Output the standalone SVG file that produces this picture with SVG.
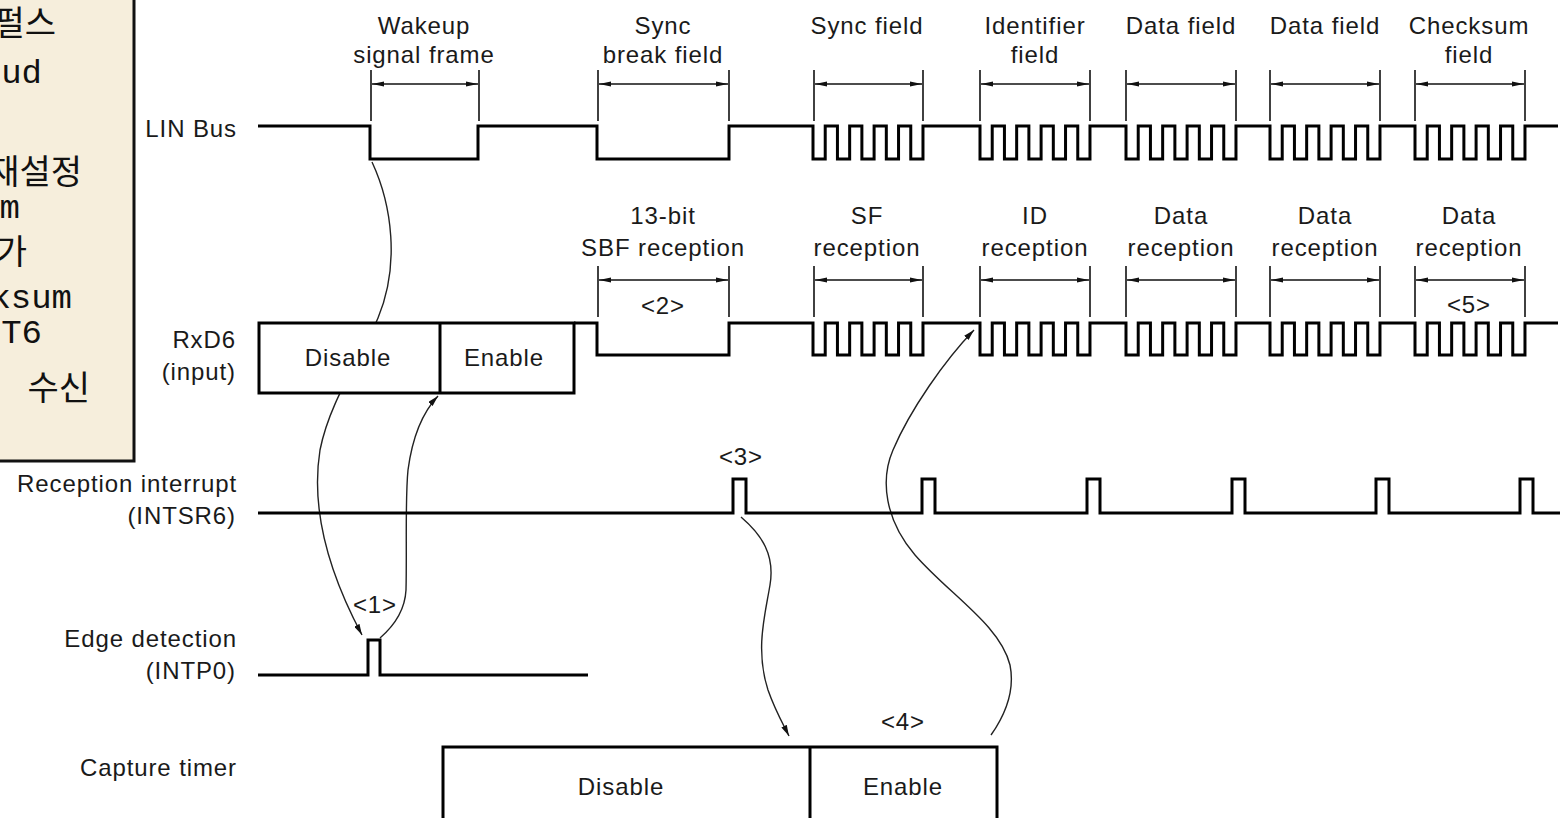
<svg xmlns="http://www.w3.org/2000/svg" width="1566" height="818" viewBox="0 0 1566 818">
<defs>
<style>
.t{font-family:"Liberation Sans",Arial,sans-serif;font-size:24px;letter-spacing:0.9px;fill:#1a1a1a}
.c{text-anchor:middle}
.r{text-anchor:end}
.kr{font-family:"Noto Sans CJK KR",sans-serif;font-size:34px;text-anchor:end;fill:#111}
.mono{font-family:"Liberation Mono","Courier New",monospace;font-size:34px;text-anchor:end;fill:#111}
.sig{fill:none;stroke:#000;stroke-width:3;stroke-linejoin:miter}
.box{fill:#fff;stroke:#000;stroke-width:3}
.tick{stroke:#111;stroke-width:1.6}
.dim{stroke:#111;stroke-width:1.6;marker-start:url(#dh);marker-end:url(#dh)}
.cv{fill:none;stroke:#222;stroke-width:1.4;marker-end:url(#ah)}
</style>
<marker id="dh" viewBox="0 0 12 6" refX="12" refY="3" markerWidth="12" markerHeight="6" markerUnits="userSpaceOnUse" orient="auto-start-reverse"><path d="M0,0.5 L12,3 L0,5.5 z" fill="#111"/></marker>
<marker id="ah" viewBox="0 0 11 6" refX="11" refY="3" markerWidth="11" markerHeight="6" markerUnits="userSpaceOnUse" orient="auto"><path d="M0,0 L11,3 L0,6 z" fill="#111"/></marker>
</defs>
<rect width="1566" height="818" fill="#fff"/>

<g id="note-box">
<rect x="-10" y="-10" width="144" height="471" fill="#F6EEDC" stroke="#111" stroke-width="3"/>
<text class="kr" x="56" y="35">펄스</text>
<text class="mono" x="42" y="83">ud</text>
<text class="kr" x="82" y="184">재설정</text>
<text class="mono" x="20" y="218">m</text>
<text class="kr" x="27" y="264">가</text>
<text class="mono" x="72" y="308">ksum</text>
<text class="mono" x="42" y="343">T6</text>
<text class="kr" x="90" y="400">수신</text>
</g>

<g id="connectors">
<path class="cv" d="M372,162 C392,205 400,265 378,318 C360,360 330,400 320,450 C312,500 322,560 362,635"/>
<path class="cv" d="M380,638 C395,625 405,610 406,590 C407,550 405,500 408,470 C412,440 420,415 438,396"/>
<path class="cv" d="M741,517 C762,535 775,555 770,585 C765,615 755,650 768,690 C775,710 782,722 789,736"/>
<path class="cv" d="M991,735 C1005,715 1015,690 1010,665 C1000,625 950,595 915,555 C885,520 880,480 893,450 C910,410 945,360 974,330"/>
</g>

<g id="lin-bus">
<text class="t r" x="237" y="137">LIN Bus</text>
<path class="sig" d="M258,126 H370 V159 H478 V126 H597 V159 H729 V126 H813 v33 h12.22 v-33 h12.22 v33 h12.22 v-33 h12.22 v33 h12.22 v-33 h12.22 v33 h12.22 v-33 h12.22 v33 h12.22 v-33 H980 v33 h12.22 v-33 h12.22 v33 h12.22 v-33 h12.22 v33 h12.22 v-33 h12.22 v33 h12.22 v-33 h12.22 v33 h12.22 v-33 H1126 v33 h12.22 v-33 h12.22 v33 h12.22 v-33 h12.22 v33 h12.22 v-33 h12.22 v33 h12.22 v-33 h12.22 v33 h12.22 v-33 H1270 v33 h12.22 v-33 h12.22 v33 h12.22 v-33 h12.22 v33 h12.22 v-33 h12.22 v33 h12.22 v-33 h12.22 v33 h12.22 v-33 H1415 v33 h12.22 v-33 h12.22 v33 h12.22 v-33 h12.22 v33 h12.22 v-33 h12.22 v33 h12.22 v-33 h12.22 v33 h12.22 v-33 H1558"/>
</g>

<g id="lin-fields">
<g class="tick">
<line x1="371" y1="70" x2="371" y2="121"/><line x1="479" y1="70" x2="479" y2="121"/>
<line x1="598" y1="70" x2="598" y2="121"/><line x1="729" y1="70" x2="729" y2="121"/>
<line x1="814" y1="70" x2="814" y2="121"/><line x1="923" y1="70" x2="923" y2="121"/>
<line x1="980" y1="70" x2="980" y2="121"/><line x1="1090" y1="70" x2="1090" y2="121"/>
<line x1="1126" y1="70" x2="1126" y2="121"/><line x1="1236" y1="70" x2="1236" y2="121"/>
<line x1="1270" y1="70" x2="1270" y2="121"/><line x1="1380" y1="70" x2="1380" y2="121"/>
<line x1="1415" y1="70" x2="1415" y2="121"/><line x1="1525" y1="70" x2="1525" y2="121"/>
</g>
<line class="dim" x1="372" y1="84" x2="478" y2="84"/>
<line class="dim" x1="599" y1="84" x2="728" y2="84"/>
<line class="dim" x1="815" y1="84" x2="922" y2="84"/>
<line class="dim" x1="981" y1="84" x2="1089" y2="84"/>
<line class="dim" x1="1127" y1="84" x2="1235" y2="84"/>
<line class="dim" x1="1271" y1="84" x2="1379" y2="84"/>
<line class="dim" x1="1416" y1="84" x2="1524" y2="84"/>
<text class="t c" x="424" y="34">Wakeup</text>
<text class="t c" x="424" y="63">signal frame</text>
<text class="t c" x="663" y="34">Sync</text>
<text class="t c" x="663" y="63">break field</text>
<text class="t c" x="867" y="34">Sync field</text>
<text class="t c" x="1035" y="34">Identifier</text>
<text class="t c" x="1035" y="63">field</text>
<text class="t c" x="1181" y="34">Data field</text>
<text class="t c" x="1325" y="34">Data field</text>
<text class="t c" x="1469" y="34">Checksum</text>
<text class="t c" x="1469" y="63">field</text>
</g>

<g id="rxd6">
<text class="t r" x="236" y="348">RxD6</text>
<text class="t r" x="236" y="380">(input)</text>
<path class="sig" d="M574,323 H597 V355 H729 V323 H813 v32 h12.22 v-32 h12.22 v32 h12.22 v-32 h12.22 v32 h12.22 v-32 h12.22 v32 h12.22 v-32 h12.22 v32 h12.22 v-32 H980 v32 h12.22 v-32 h12.22 v32 h12.22 v-32 h12.22 v32 h12.22 v-32 h12.22 v32 h12.22 v-32 h12.22 v32 h12.22 v-32 H1126 v32 h12.22 v-32 h12.22 v32 h12.22 v-32 h12.22 v32 h12.22 v-32 h12.22 v32 h12.22 v-32 h12.22 v32 h12.22 v-32 H1270 v32 h12.22 v-32 h12.22 v32 h12.22 v-32 h12.22 v32 h12.22 v-32 h12.22 v32 h12.22 v-32 h12.22 v32 h12.22 v-32 H1415 v32 h12.22 v-32 h12.22 v32 h12.22 v-32 h12.22 v32 h12.22 v-32 h12.22 v32 h12.22 v-32 h12.22 v32 h12.22 v-32 H1558"/>
<rect class="box" x="259" y="323" width="315" height="70"/>
<line x1="440" y1="323" x2="440" y2="393" stroke="#000" stroke-width="3"/>
<text class="t c" x="348" y="366">Disable</text>
<text class="t c" x="504" y="366">Enable</text>
</g>

<g id="rx-fields">
<g class="tick">
<line x1="598" y1="266" x2="598" y2="317"/><line x1="729" y1="266" x2="729" y2="317"/>
<line x1="814" y1="266" x2="814" y2="317"/><line x1="923" y1="266" x2="923" y2="317"/>
<line x1="980" y1="266" x2="980" y2="317"/><line x1="1090" y1="266" x2="1090" y2="317"/>
<line x1="1126" y1="266" x2="1126" y2="317"/><line x1="1236" y1="266" x2="1236" y2="317"/>
<line x1="1270" y1="266" x2="1270" y2="317"/><line x1="1380" y1="266" x2="1380" y2="317"/>
<line x1="1415" y1="266" x2="1415" y2="317"/><line x1="1525" y1="266" x2="1525" y2="317"/>
</g>
<line class="dim" x1="599" y1="280" x2="728" y2="280"/>
<line class="dim" x1="815" y1="280" x2="922" y2="280"/>
<line class="dim" x1="981" y1="280" x2="1089" y2="280"/>
<line class="dim" x1="1127" y1="280" x2="1235" y2="280"/>
<line class="dim" x1="1271" y1="280" x2="1379" y2="280"/>
<line class="dim" x1="1416" y1="280" x2="1524" y2="280"/>
<text class="t c" x="663" y="224">13-bit</text>
<text class="t c" x="663" y="256">SBF reception</text>
<text class="t c" x="663" y="314">&lt;2&gt;</text>
<text class="t c" x="867" y="224">SF</text>
<text class="t c" x="867" y="256">reception</text>
<text class="t c" x="1035" y="224">ID</text>
<text class="t c" x="1035" y="256">reception</text>
<text class="t c" x="1181" y="224">Data</text>
<text class="t c" x="1181" y="256">reception</text>
<text class="t c" x="1325" y="224">Data</text>
<text class="t c" x="1325" y="256">reception</text>
<text class="t c" x="1469" y="224">Data</text>
<text class="t c" x="1469" y="256">reception</text>
<text class="t c" x="1469" y="313">&lt;5&gt;</text>
</g>

<g id="intsr6">
<text class="t r" x="237" y="492">Reception interrupt</text>
<text class="t r" x="236" y="524">(INTSR6)</text>
<path class="sig" d="M258,513 H733 V479 H746 V513 H922 V479 H935 V513 H1087 V479 H1100 V513 H1232 V479 H1245 V513 H1376 V479 H1389 V513 H1520 V479 H1533 V513 H1560"/>
<text class="t c" x="741" y="465">&lt;3&gt;</text>
</g>

<g id="intp0">
<text class="t r" x="237" y="647">Edge detection</text>
<text class="t r" x="236" y="679">(INTP0)</text>
<path class="sig" d="M258,675 H368 V640 H380 V675 H588"/>
<text class="t c" x="375" y="613">&lt;1&gt;</text>
</g>

<g id="capture-timer">
<text class="t r" x="237" y="776">Capture timer</text>
<rect class="box" x="443" y="747" width="554" height="90"/>
<line x1="810" y1="747" x2="810" y2="830" stroke="#000" stroke-width="3"/>
<text class="t c" x="621" y="795">Disable</text>
<text class="t c" x="903" y="795">Enable</text>
<text class="t c" x="903" y="730">&lt;4&gt;</text>
</g>
</svg>
